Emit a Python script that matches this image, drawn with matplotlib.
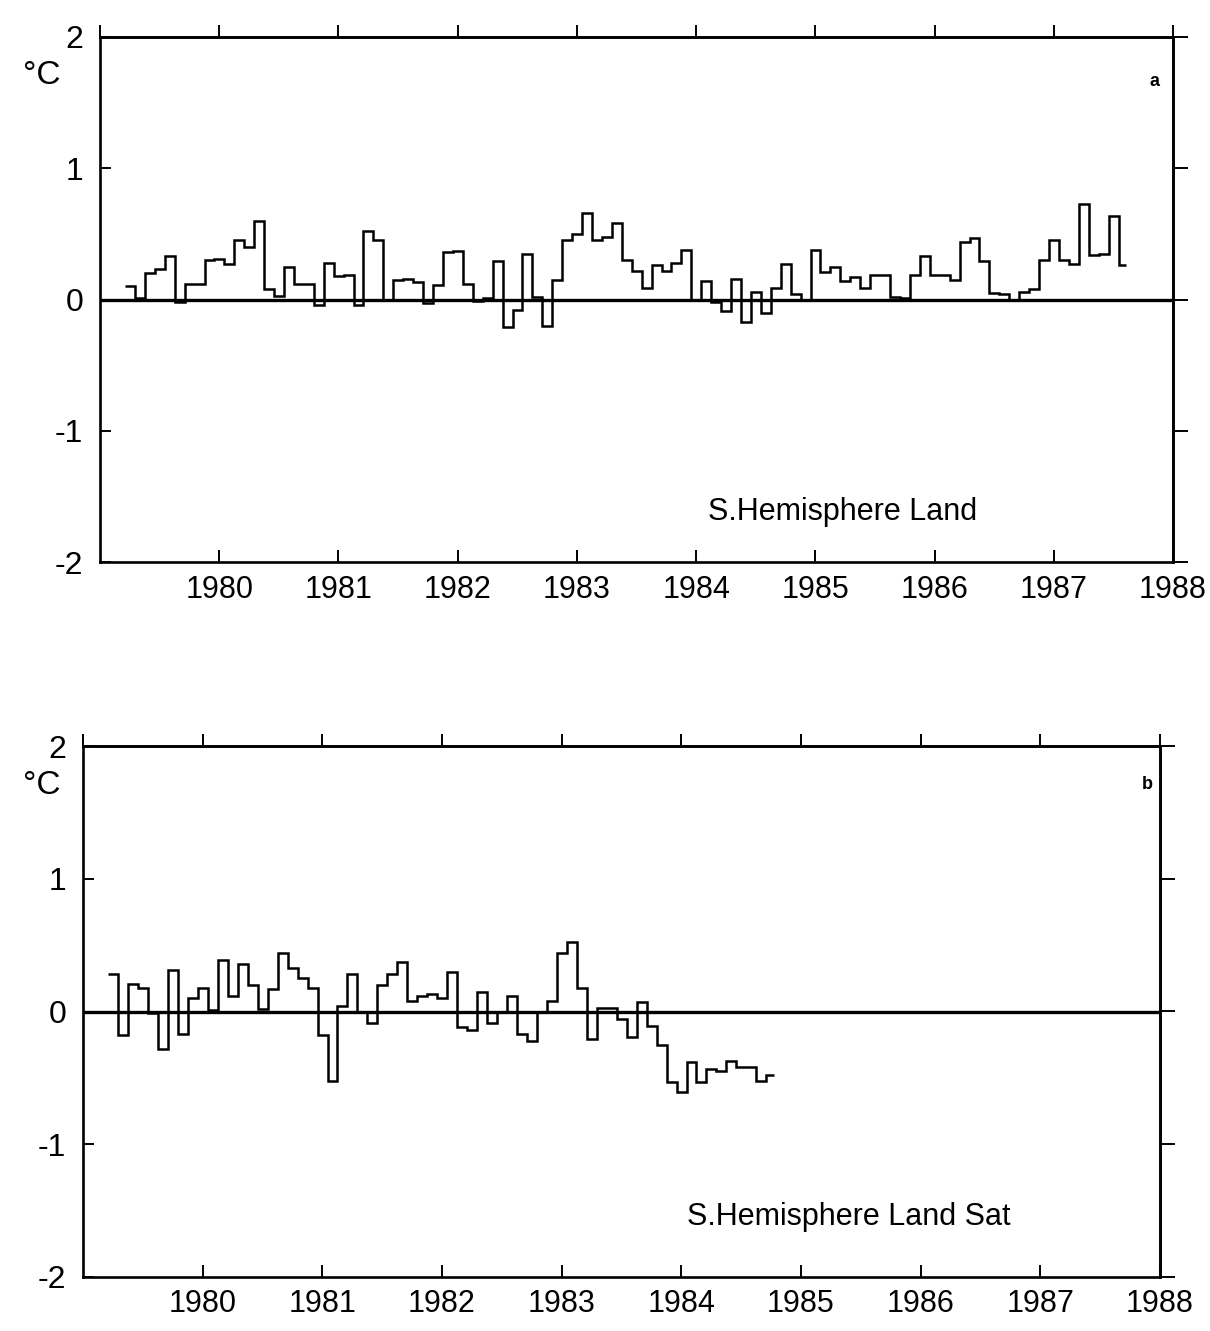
import numpy as np
import matplotlib
matplotlib.use("Agg")
import matplotlib.pyplot as plt

plt.rcParams['font.family'] = ['Liberation Sans', 'DejaVu Sans']

# ---------------- data (monthly anomalies, degC) ----------------
start_year = 1979.21          # start of first monthly step
year_ticks = list(range(1980, 1989))
y_ticks = [-2, -1, 0, 1, 2]

land_values = [
    0.10, 0.01, 0.20, 0.23, 0.33, -0.02, 0.12, 0.12, 0.30, 0.31,
    0.27, 0.45, 0.40, 0.60, 0.08, 0.03, 0.25, 0.12, 0.12, -0.04,
    0.28, 0.18, 0.19, -0.04, 0.52, 0.45, 0.00, 0.15, 0.16, 0.13,
    -0.03, 0.11, 0.36, 0.37, 0.12, -0.01, 0.01, 0.29, -0.21, -0.08,
    0.35, 0.02, -0.20, 0.15, 0.45, 0.50, 0.66, 0.45, 0.48, 0.58,
    0.30, 0.22, 0.09, 0.26, 0.22, 0.28, 0.38, 0.00, 0.14, -0.02,
    -0.09, 0.16, -0.17, 0.06, -0.10, 0.09, 0.27, 0.04, 0.00, 0.38,
    0.21, 0.25, 0.14, 0.17, 0.09, 0.19, 0.19, 0.02, 0.01, 0.19,
    0.33, 0.19, 0.19, 0.15, 0.44, 0.47, 0.29, 0.05, 0.045, 0.00,
    0.06, 0.08, 0.30, 0.45, 0.30, 0.27, 0.73, 0.34, 0.35, 0.64,
    0.26,
]

sat_values = [
    0.285, -0.18, 0.21, 0.18, -0.01, -0.285, 0.31, -0.17, 0.10, 0.18,
    0.01, 0.39, 0.12, 0.36, 0.20, 0.02, 0.17, 0.44, 0.33, 0.25,
    0.18, -0.18, -0.525, 0.045, 0.28, 0.00, -0.09, 0.20, 0.28, 0.37,
    0.08, 0.12, 0.13, 0.10, 0.30, -0.12, -0.14, 0.15, -0.09, 0.00,
    0.12, -0.17, -0.22, 0.00, 0.08, 0.44, 0.52, 0.18, -0.21, 0.03,
    0.03, -0.06, -0.19, 0.07, -0.11, -0.25, -0.53, -0.61, -0.38, -0.53,
    -0.43, -0.45, -0.37, -0.42, -0.42, -0.52, -0.48,
]

titles = ["S.Hemisphere Land", "S.Hemisphere Land Sat"]
panel_letters = ["a", "b"]


def month_edges(n):
    edges = start_year + np.arange(n + 1) / 12.0
    edges[-1] = start_year + (n - 1 + 0.75) / 12.0   # last step drawn short
    return edges


W, H = 1210, 1331
fig = plt.figure(figsize=(W / 100, H / 100), dpi=100)

axes_px = [  # left, right, top, bottom in pixels
    (100, 1173, 37, 562),
    (83, 1160, 746, 1277),
]
series = [land_values, sat_values]
text_pos = [(1984.1, -1.62), (1984.05, -1.55)]
letter_pos = [(0.983, 0.915), (0.988, 0.928)]
degc_y = [75, 785]

for i in range(2):
    l, r, t, b = axes_px[i]
    ax = fig.add_axes([l / W, 1 - b / H, (r - l) / W, (b - t) / H])
    vals = series[i]
    ax.stairs(vals, month_edges(len(vals)), baseline=None,
              color='black', lw=1.8)
    ax.axhline(0, color='black', lw=2.4)
    ax.set_xlim(1979, 1988)
    ax.set_ylim(-2, 2)

    ax.set_xticks(year_ticks)
    ax.set_xticklabels([str(y) for y in year_ticks])
    ax.set_yticks(y_ticks)
    ax.set_yticklabels([str(v) for v in y_ticks])
    ax.tick_params(axis='x', direction='in', length=9, width=1.4,
                   labelsize=22, pad=9, top=False)
    ax.tick_params(axis='y', direction='in', length=8, width=1.4,
                   labelsize=23, pad=12, right=False)
    for s in ax.spines.values():
        s.set_linewidth(1.9)

    sx = ax.secondary_xaxis('top')
    sx.set_xticks(list(range(1979, 1989)))
    sx.tick_params(direction='out', length=9, width=1.4, labeltop=False)
    sx.spines['top'].set_linewidth(1.9)
    sy = ax.secondary_yaxis('right')
    sy.set_yticks(y_ticks)
    sy.tick_params(direction='out', length=11, width=1.4, labelright=False)
    sy.spines['right'].set_linewidth(1.9)

    ax.text(text_pos[i][0], text_pos[i][1], titles[i], fontsize=22,
            ha='left', va='center')
    ax.text(letter_pos[i][0], letter_pos[i][1], panel_letters[i],
            transform=ax.transAxes, fontsize=13, fontweight='bold',
            ha='center', va='center')
    fig.text(42 / W, 1 - degc_y[i] / H, '°C', fontsize=24,
             ha='center', va='center')

fig.savefig('out.png', dpi=100, facecolor='white')
